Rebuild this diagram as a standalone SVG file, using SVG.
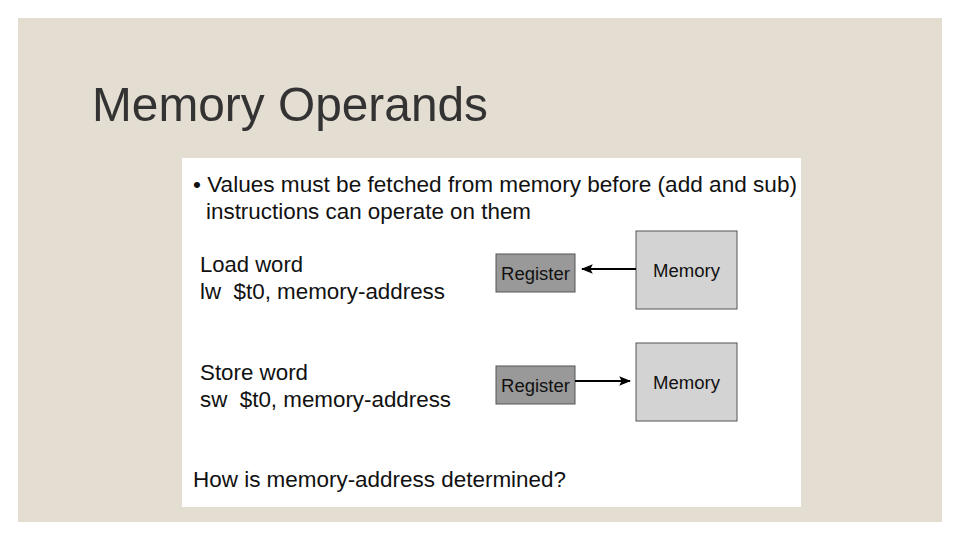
<svg xmlns="http://www.w3.org/2000/svg" width="960" height="540" viewBox="0 0 960 540">
<defs>
<style>
.t{font-family:"Liberation Sans",Arial,sans-serif;fill:#111;}
.b{font-size:22.5px;}
.reg{fill:#999;stroke:#555;stroke-width:1;}
.mem{fill:#d3d3d3;stroke:#555;stroke-width:1;}
.lbl{font-family:"Liberation Sans",Arial,sans-serif;font-size:18px;fill:#111;}
.conn{stroke:#000;stroke-width:2;fill:none;}
</style>
<marker id="ah" viewBox="0 0 10 10" refX="9" refY="5" markerWidth="6" markerHeight="6" orient="auto" markerUnits="strokeWidth">
<path d="M0,1 L10,5 L0,9 L2,5 Z" fill="#000"/>
</marker>
</defs>
<rect x="0" y="0" width="960" height="540" fill="#fff"/>
<rect x="18" y="18" width="924" height="504" fill="#e3ddd2"/>
<text class="t" x="92" y="121" font-size="49" style="fill:#333" textLength="396" lengthAdjust="spacingAndGlyphs">Memory Operands</text>
<rect x="182" y="158" width="619" height="349" fill="#fff"/>
<text class="t b" x="193" y="192" textLength="604" lengthAdjust="spacingAndGlyphs">• Values must be fetched from memory before (add and sub)</text>
<text class="t b" x="206" y="219" textLength="325" lengthAdjust="spacingAndGlyphs">instructions can operate on them</text>
<text class="t b" x="200" y="272" textLength="103" lengthAdjust="spacingAndGlyphs">Load word</text>
<text class="t b" x="200" y="299" textLength="245" lengthAdjust="spacingAndGlyphs" xml:space="preserve">lw  $t0, memory-address</text>
<text class="t b" x="200" y="380" textLength="108" lengthAdjust="spacingAndGlyphs">Store word</text>
<text class="t b" x="200" y="407" textLength="251" lengthAdjust="spacingAndGlyphs" xml:space="preserve">sw  $t0, memory-address</text>
<text class="t b" x="193" y="487" textLength="373" lengthAdjust="spacingAndGlyphs">How is memory-address determined?</text>
<g id="register1"><rect class="reg" x="496" y="254" width="79" height="38"/><text class="lbl" x="501" y="280" textLength="69" lengthAdjust="spacingAndGlyphs">Register</text></g>
<g id="memory1"><rect class="mem" x="636" y="231" width="101" height="78"/><text class="lbl" x="653" y="277" textLength="67" lengthAdjust="spacingAndGlyphs">Memory</text></g>
<g id="register2"><rect class="reg" x="496" y="366" width="79" height="38"/><text class="lbl" x="501" y="392" textLength="69" lengthAdjust="spacingAndGlyphs">Register</text></g>
<g id="memory2"><rect class="mem" x="636" y="343" width="101" height="78"/><text class="lbl" x="653" y="389" textLength="67" lengthAdjust="spacingAndGlyphs">Memory</text></g>
<g id="connectors">
<line class="conn" x1="636" y1="269" x2="582" y2="269" marker-end="url(#ah)"/>
<line class="conn" x1="575" y1="381" x2="630" y2="381" marker-end="url(#ah)"/>
</g>
</svg>
